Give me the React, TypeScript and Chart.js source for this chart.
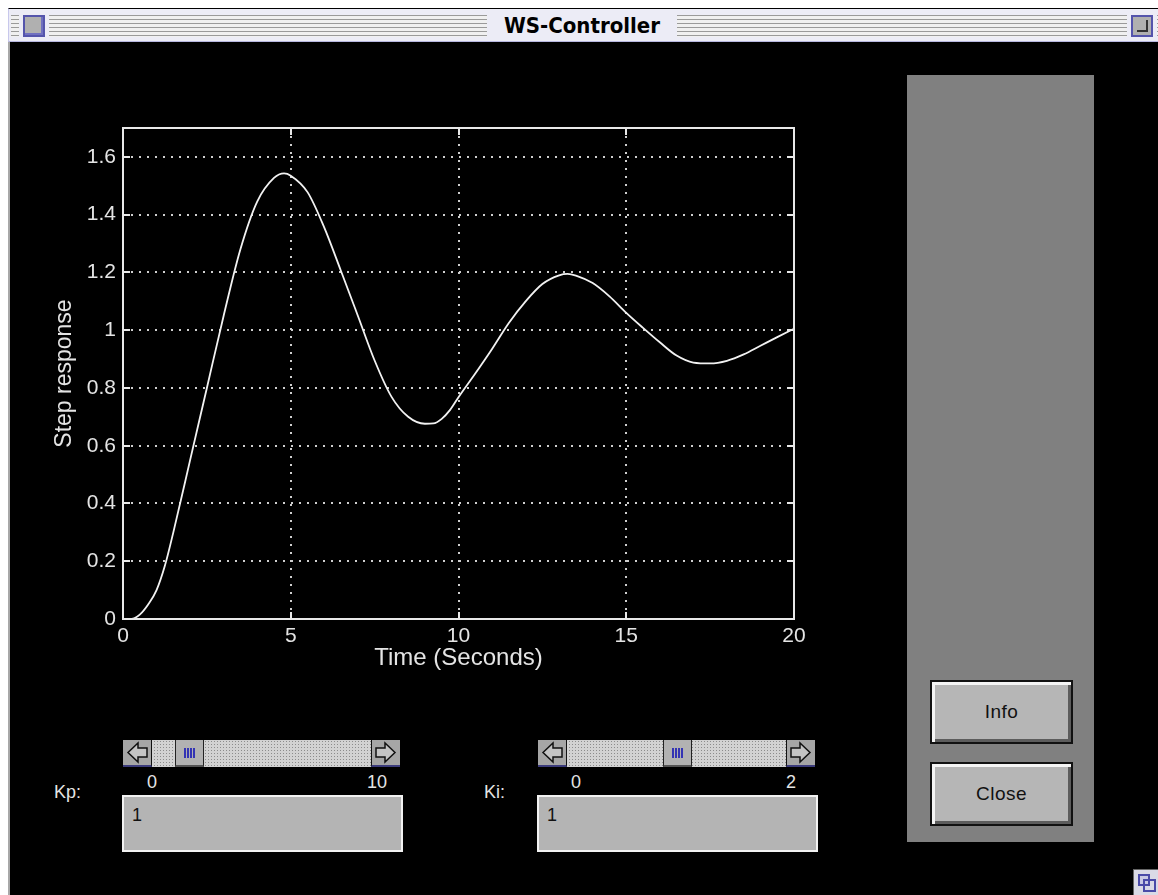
import React, { useEffect, useRef } from 'react';
import { Chart, registerables } from 'chart.js';

Chart.register(...registerables);

// ---- data ----
const timeSeconds = [0, 0.25, 0.5, 0.75, 1, 1.25, 1.5, 2, 2.5, 3, 3.5, 4, 4.5, 4.8, 5, 5.5, 6, 6.5, 7, 7.5, 8, 8.5, 9, 9.25, 9.5, 9.75, 10, 10.5, 11, 11.5, 12, 12.5, 13, 13.25, 13.5, 14, 14.5, 15, 15.5, 16, 16.5, 17, 17.5, 18, 18.5, 19, 19.5, 20];
const stepResponse = [0, 0, 0.015, 0.05, 0.1, 0.185, 0.3, 0.55, 0.8, 1.05, 1.28, 1.445, 1.527, 1.543, 1.535, 1.478, 1.355, 1.204, 1.05, 0.895, 0.77, 0.7, 0.676, 0.677, 0.693, 0.724, 0.768, 0.85, 0.935, 1.025, 1.1, 1.16, 1.19, 1.195, 1.189, 1.163, 1.117, 1.06, 1.008, 0.958, 0.912, 0.888, 0.885, 0.894, 0.916, 0.946, 0.976, 1.005];
const xTickValues = [0, 5, 10, 15, 20];
const xTickLabels = ['0', '5', '10', '15', '20'];
const yTickValues = [0, 0.2, 0.4, 0.6, 0.8, 1, 1.2, 1.4, 1.6];
const yTickLabels = ['0', '0.2', '0.4', '0.6', '0.8', '1', '1.2', '1.4', '1.6'];
const xAxisTitle = 'Time (Seconds)';
const yAxisTitle = 'Step response';
const windowTitle = 'WS-Controller';

const FONT = '"Liberation Sans", Arial, Helvetica, sans-serif';
const LIGHT = '#e4e4e4';

const framePlugin = {
  id: 'frameTicks',
  afterDatasetsDraw(chart: any) {
    const { ctx, chartArea, scales } = chart;
    const { left, top, right, bottom } = chartArea;
    const x = scales.x;
    const y = scales.y;
    ctx.save();
    ctx.strokeStyle = '#e8e8e8';
    ctx.lineWidth = 2;
    ctx.strokeRect(left, top, right - left, bottom - top);
    ctx.beginPath();
    for (const v of xTickValues) {
      const px = Math.round(x.getPixelForValue(v));
      ctx.moveTo(px, bottom);
      ctx.lineTo(px, bottom - 7);
      ctx.moveTo(px, top);
      ctx.lineTo(px, top + 7);
    }
    for (const v of yTickValues) {
      const py = Math.round(y.getPixelForValue(v));
      ctx.moveTo(left, py);
      ctx.lineTo(left + 7, py);
      ctx.moveTo(right, py);
      ctx.lineTo(right - 7, py);
    }
    ctx.stroke();
    ctx.restore();
  },
};

function StepChart() {
  const ref = useRef<HTMLCanvasElement | null>(null);
  useEffect(() => {
    if (!ref.current) return;
    const chart = new Chart(ref.current, {
      type: 'line',
      data: {
        datasets: [
          {
            data: timeSeconds.map((t, i) => ({ x: t, y: stepResponse[i] })),
            borderColor: '#f2f2f2',
            borderWidth: 1.8,
            pointRadius: 0,
            cubicInterpolationMode: 'monotone',
            fill: false,
          },
        ],
      },
      options: {
        animation: false,
        responsive: false,
        maintainAspectRatio: false,
        layout: { padding: { left: 0, top: 28, right: 46, bottom: 0 } },
        plugins: { legend: { display: false }, tooltip: { enabled: false } },
        scales: {
          x: {
            type: 'linear',
            min: 0,
            max: 20,
            afterBuildTicks: (s: any) => {
              s.ticks = xTickValues.map((v) => ({ value: v }));
            },
            afterFit: (s: any) => {
              s.height = 54;
            },
            grid: { color: '#cfcfcf', lineWidth: 2, drawTicks: false },
            border: { display: false, dash: [2, 6] },
            ticks: {
              color: LIGHT,
              font: { family: FONT, size: 21 },
              padding: 5,
              maxRotation: 0,
              autoSkip: false,
              callback: (_v: any, i: number) => xTickLabels[i],
            },
            title: {
              display: true,
              text: xAxisTitle,
              color: LIGHT,
              font: { family: FONT, size: 24 },
              padding: 0,
            },
          },
          y: {
            type: 'linear',
            min: 0,
            max: 1.7,
            afterBuildTicks: (s: any) => {
              s.ticks = yTickValues.map((v) => ({ value: v }));
            },
            afterFit: (s: any) => {
              s.width = 72;
            },
            grid: { color: '#cfcfcf', lineWidth: 2, drawTicks: false },
            border: { display: false, dash: [2, 6] },
            ticks: {
              color: LIGHT,
              font: { family: FONT, size: 21 },
              padding: 7,
              autoSkip: false,
              callback: (_v: any, i: number) => yTickLabels[i],
            },
            title: {
              display: true,
              text: yAxisTitle,
              color: LIGHT,
              font: { family: FONT, size: 23 },
              padding: 0,
            },
          },
        },
      },
      plugins: [framePlugin],
    } as any);
    return () => chart.destroy();
  }, []);
  return (
    <canvas
      ref={ref}
      width={789}
      height={573}
      style={{ position: 'absolute', left: 51, top: 100, width: 789, height: 573 }}
    />
  );
}

const abs = (left: number, top: number, width: number, height: number): React.CSSProperties => ({
  position: 'absolute',
  left,
  top,
  width,
  height,
  boxSizing: 'border-box',
});

function Arrow({ dir }: { dir: 'left' | 'right' }) {
  const pts = dir === 'left' ? '5,13.5 15,4 15,9 24,9 24,18 15,18 15,23' : '24,13.5 14,4 14,9 5,9 5,18 14,18 14,23';
  return (
    <svg width={29} height={27} style={{ display: 'block' }}>
      <polygon points={pts} fill="#c4c4c4" stroke="#111" strokeWidth={1.5} strokeLinejoin="miter" />
    </svg>
  );
}

function Slider({ left, top, width, thumb }: { left: number; top: number; width: number; thumb: number }) {
  return (
    <div
      style={{
        ...abs(left, top, width, 27),
        background: 'radial-gradient(circle, #8c8c8c 0.7px, transparent 1px) 0 0 / 3px 3px, #d2d2d2',
      }}
    >
      <div style={{ ...abs(0, 0, 29, 27), background: '#a6a6a6', borderRight: '1px solid #111', borderBottom: '2px solid #3c3c7c' }}>
        <div style={{ position: 'absolute', left: 0, top: -1 }}>
          <Arrow dir="left" />
        </div>
      </div>
      <div style={{ ...abs(width - 29, 0, 29, 27), background: '#a6a6a6', borderLeft: '1px solid #111', borderBottom: '2px solid #3c3c7c' }}>
        <div style={{ position: 'absolute', left: -1, top: -1 }}>
          <Arrow dir="right" />
        </div>
      </div>
      <div
        style={{
          ...abs(thumb - left, 0, 29, 27),
          background: '#b2b2b2',
          borderLeft: '1px solid #222',
          borderRight: '1px solid #222',
          borderBottom: '2px solid #555',
        }}
      >
        {[0, 1, 2, 3].map((i) => (
          <div key={i} style={{ ...abs(8 + i * 3, 8, 2, 10), background: '#3434b4' }} />
        ))}
      </div>
    </div>
  );
}

function Label({ left, top, text, size = 18, color = LIGHT, center = false }: { left: number; top: number; text: string; size?: number; color?: string; center?: boolean }) {
  return (
    <div
      style={{
        position: 'absolute',
        left: center ? left - 40 : left,
        top,
        width: center ? 80 : undefined,
        textAlign: center ? 'center' : 'left',
        fontFamily: FONT,
        fontSize: size,
        lineHeight: `${size}px`,
        color,
        whiteSpace: 'nowrap',
      }}
    >
      {text}
    </div>
  );
}

function EditBox({ left, top, value }: { left: number; top: number; value: string }) {
  return (
    <div style={{ ...abs(left, top, 281, 57), background: '#b4b4b4', border: '2px solid #f2f2f2' }}>
      <Label left={8} top={9} text={value} color="#111" />
    </div>
  );
}

function Button({ left, top, text }: { left: number; top: number; text: string }) {
  return (
    <div
      style={{
        ...abs(left, top, 143, 64),
        background: '#b6b6b6',
        border: '2px solid #111',
        boxShadow: 'inset 3px 3px 0 #f4f4f4, inset -3px -3px 0 #5c5c5c',
        display: 'flex',
        alignItems: 'center',
        justifyContent: 'center',
        fontFamily: FONT,
        fontSize: 19,
        color: '#111',
        letterSpacing: 0.5,
      }}
    >
      {text}
    </div>
  );
}

const STRIPES = 'repeating-linear-gradient(to bottom, #9a9a9a 0px, #9a9a9a 1.5px, #f0f0f0 1.5px, #f0f0f0 4px)';

export default function App() {
  return (
    <div style={{ position: 'absolute', left: 0, top: 0, width: 1158, height: 895, overflow: 'hidden', background: '#fff' }}>
      {/* window body */}
      <div style={{ ...abs(8, 8, 1150, 887), background: '#000', borderLeft: '2px solid #a8a8a8' }} />
      {/* title bar */}
      <div style={{ ...abs(8, 8, 1150, 34), background: '#ececf6', borderTop: '1px solid #000', borderBottom: '1px solid #b8b8e0', borderLeft: '1px solid #c8c8ec' }} />
      <div style={{ ...abs(11, 15, 1147, 22), background: STRIPES }} />
      {/* close box */}
      <div style={{ ...abs(19, 13, 30, 26), background: '#ececf6' }} />
      <div style={{ ...abs(23, 15, 22, 22), background: '#b0b0b0', border: '2px solid #5454ac', boxShadow: 'inset -2px -2px 0 #7070c0' }} />
      {/* zoom box */}
      <div style={{ ...abs(1127, 13, 30, 26), background: '#ececf6' }} />
      <div style={{ ...abs(1131, 15, 22, 22), background: '#b0b0b0', border: '2px solid #5454ac' }}>
        <div style={{ ...abs(4, 3, 11, 12), borderRight: '2px solid #333', borderBottom: '2px solid #333' }} />
      </div>
      {/* title text */}
      <div
        style={{
          ...abs(487, 10, 190, 30),
          background: '#ececf6',
          display: 'flex',
          alignItems: 'center',
          justifyContent: 'center',
          fontFamily: '"DejaVu Sans Condensed", "Liberation Sans Narrow", sans-serif',
          fontWeight: 'bold',
          fontSize: 22,
          color: '#000',
        }}
      >
        {windowTitle}
      </div>

      <StepChart />

      {/* right panel */}
      <div style={{ ...abs(907, 75, 187, 767), background: '#808080' }} />
      <Button left={930} top={680} text="Info" />
      <Button left={930} top={762} text="Close" />

      {/* Kp controls */}
      <Slider left={123} top={740} width={277} thumb={175} />
      <Label left={152} top={773} text="0" center />
      <Label left={377} top={773} text="10" center />
      <Label left={54} top={783} text="Kp:" />
      <EditBox left={122} top={795} value="1" />

      {/* Ki controls */}
      <Slider left={538} top={740} width={277} thumb={663} />
      <Label left={576} top={773} text="0" center />
      <Label left={791} top={773} text="2" center />
      <Label left={484} top={783} text="Ki:" />
      <EditBox left={537} top={795} value="1" />

      {/* resize box */}
      <div style={{ ...abs(1133, 869, 25, 26), background: '#dadae6', borderLeft: '1px solid #666', borderTop: '1px solid #666' }}>
        <div style={{ ...abs(4, 4, 12, 12), border: '2px solid #4a4aa8', background: '#c8c8e4' }} />
        <div style={{ ...abs(9, 9, 13, 13), border: '2px solid #4a4aa8' }} />
      </div>
    </div>
  );
}
